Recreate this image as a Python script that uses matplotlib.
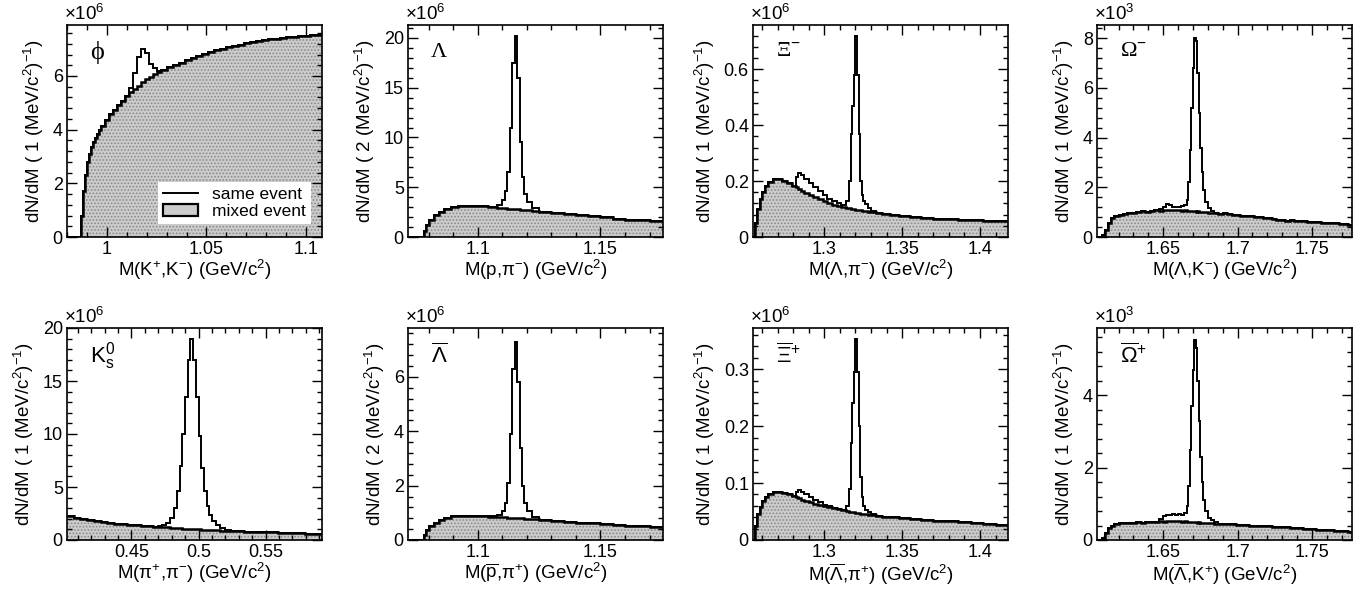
# -*- coding: utf-8 -*-
"""
Invariant-mass spectra: same-event vs mixed-event pairs
for phi, Lambda, Xi, Omega, K0s and anti-baryons.
"""
import matplotlib
matplotlib.use('Agg')
import matplotlib.pyplot as plt
from matplotlib.lines import Line2D
from matplotlib.patches import Patch
from matplotlib.ticker import MultipleLocator, AutoMinorLocator, FuncFormatter

plt.rcParams['font.family'] = ['Liberation Sans', 'DejaVu Sans']
plt.rcParams['mathtext.fontset'] = 'custom'
plt.rcParams['mathtext.rm'] = 'Liberation Sans'
plt.rcParams['mathtext.it'] = 'Liberation Sans:italic'
plt.rcParams['mathtext.bf'] = 'Liberation Sans:bold'
plt.rcParams['hatch.linewidth'] = 0.8

# ---- phi -> K+ K-  (x10^6) ----
phi_edges = [0.980, 0.987, 0.988, 0.989, 0.990, 0.991, 0.992, 0.993, 0.994, 0.995,
             0.996, 0.997, 0.999, 1.001, 1.003, 1.005, 1.007, 1.009, 1.011, 1.013,
             1.015, 1.017, 1.019, 1.021, 1.023, 1.025, 1.027, 1.030, 1.033, 1.036,
             1.039, 1.042, 1.045, 1.048, 1.051, 1.054, 1.057, 1.060, 1.063, 1.066,
             1.069, 1.072, 1.075, 1.078, 1.081, 1.084, 1.087, 1.090, 1.093, 1.096,
             1.099, 1.102, 1.105, 1.108]
phi_mixed = [0, 0.8, 1.7, 2.3, 2.8, 3.1, 3.35, 3.55, 3.7, 3.85,
             3.97, 4.12, 4.35, 4.57, 4.75, 4.93, 5.08, 5.25, 5.4, 5.52,
             5.64, 5.76, 5.88, 5.98, 6.07, 6.15, 6.24, 6.32, 6.41, 6.5,
             6.58, 6.66, 6.74, 6.81, 6.88, 6.95, 7.01, 7.07, 7.12, 7.17,
             7.22, 7.26, 7.3, 7.33, 7.36, 7.39, 7.42, 7.44, 7.46, 7.48,
             7.5, 7.51, 7.53]
phi_same = [0, 0.8, 1.7, 2.3, 2.8, 3.1, 3.35, 3.55, 3.7, 3.85,
            3.97, 4.12, 4.35, 4.57, 4.75, 4.93, 5.08, 5.25, 5.55, 6.1,
            6.7, 7.02, 6.85, 6.45, 6.28, 6.2, 6.24, 6.32, 6.41, 6.5,
            6.58, 6.66, 6.74, 6.81, 6.88, 6.95, 7.01, 7.07, 7.12, 7.17,
            7.22, 7.26, 7.3, 7.33, 7.36, 7.39, 7.42, 7.44, 7.46, 7.48,
            7.5, 7.51, 7.53]

# ---- Lambda / anti-Lambda -> p pi  (x10^6) ----
lam_edges = [1.0715, 1.078, 1.079, 1.080, 1.082, 1.084, 1.086, 1.089, 1.092, 1.096,
             1.100, 1.104, 1.108, 1.110, 1.111, 1.112, 1.113, 1.114, 1.115, 1.116,
             1.117, 1.118, 1.119, 1.120, 1.122, 1.125, 1.130, 1.135, 1.140, 1.145,
             1.150, 1.155, 1.160, 1.165, 1.170, 1.1755]
lam_mixed = [0, 0.6, 1.2, 1.7, 2.2, 2.55, 2.85, 3.02, 3.12, 3.13,
             3.07, 2.98, 2.92, 2.89, 2.87, 2.85, 2.83, 2.81, 2.79, 2.77,
             2.75, 2.73, 2.71, 2.68, 2.63, 2.55, 2.42, 2.3, 2.18, 2.07,
             1.96, 1.85, 1.75, 1.67, 1.6]
lam_same = [0, 0.6, 1.2, 1.7, 2.2, 2.55, 2.85, 3.02, 3.12, 3.13,
            3.07, 3.0, 3.2, 3.7, 4.6, 6.5, 11.0, 17.5, 20.2, 16.0,
            9.5, 6.0, 4.3, 3.5, 2.9, 2.55, 2.42, 2.3, 2.18, 2.07,
            1.96, 1.85, 1.75, 1.67, 1.6]
alam_mixed = [0, 0.17, 0.35, 0.5, 0.64, 0.74, 0.82, 0.87, 0.9, 0.9,
              0.88, 0.86, 0.84, 0.835, 0.83, 0.825, 0.82, 0.815, 0.81, 0.805,
              0.8, 0.795, 0.79, 0.78, 0.765, 0.74, 0.7, 0.67, 0.64, 0.61,
              0.58, 0.55, 0.52, 0.5, 0.48]
alam_same = [0, 0.17, 0.35, 0.5, 0.64, 0.74, 0.82, 0.87, 0.9, 0.9,
             0.88, 0.87, 0.92, 1.05, 1.35, 2.1, 3.9, 6.3, 7.3, 5.8,
             3.4, 2.0, 1.35, 1.05, 0.85, 0.74, 0.7, 0.67, 0.64, 0.61,
             0.58, 0.55, 0.52, 0.5, 0.48]

# ---- Xi- / Xi+ -> Lambda pi  (x10^6) ----
xi_edges = [1.2542, 1.2555, 1.257, 1.2585, 1.260, 1.262, 1.264, 1.267, 1.270, 1.273,
            1.276, 1.279, 1.2815, 1.283, 1.285, 1.287, 1.290, 1.293, 1.296, 1.299,
            1.302, 1.305, 1.308, 1.311, 1.314, 1.316, 1.317, 1.318, 1.319, 1.320,
            1.321, 1.322, 1.323, 1.324, 1.325, 1.326, 1.328, 1.330, 1.333, 1.337,
            1.342, 1.348, 1.355, 1.362, 1.370, 1.378, 1.386, 1.394, 1.402, 1.410,
            1.418]
xim_mixed = [0, 0.05, 0.1, 0.135, 0.16, 0.183, 0.198, 0.206, 0.207, 0.2,
             0.192, 0.183, 0.177, 0.171, 0.165, 0.158, 0.15, 0.142, 0.135, 0.128,
             0.122, 0.116, 0.112, 0.108, 0.104, 0.102, 0.101, 0.1, 0.099, 0.098,
             0.097, 0.096, 0.095, 0.094, 0.093, 0.092, 0.09, 0.088, 0.085, 0.082,
             0.078, 0.075, 0.072, 0.069, 0.066, 0.064, 0.062, 0.06, 0.058, 0.056]
xim_same = [0, 0.05, 0.1, 0.135, 0.16, 0.183, 0.198, 0.206, 0.207, 0.2,
            0.192, 0.183, 0.215, 0.23, 0.222, 0.208, 0.193, 0.178, 0.163, 0.149,
            0.137, 0.127, 0.12, 0.115, 0.13, 0.2, 0.37, 0.47, 0.58, 0.72,
            0.58, 0.37, 0.2, 0.15, 0.13, 0.118, 0.105, 0.092, 0.085, 0.082,
            0.078, 0.075, 0.072, 0.069, 0.066, 0.064, 0.062, 0.06, 0.058, 0.056]
xip_mixed = [0, 0.025, 0.045, 0.058, 0.068, 0.076, 0.081, 0.084, 0.085, 0.083,
             0.08, 0.077, 0.075, 0.073, 0.071, 0.069, 0.066, 0.064, 0.062, 0.06,
             0.058, 0.056, 0.054, 0.052, 0.051, 0.05, 0.0495, 0.049, 0.0485, 0.048,
             0.0475, 0.047, 0.0465, 0.046, 0.0455, 0.045, 0.0445, 0.044, 0.043, 0.041,
             0.04, 0.038, 0.037, 0.0355, 0.034, 0.033, 0.031, 0.0295, 0.028, 0.026]
xip_same = [0, 0.025, 0.045, 0.058, 0.068, 0.076, 0.081, 0.084, 0.085, 0.083,
            0.08, 0.077, 0.084, 0.088, 0.085, 0.08, 0.075, 0.07, 0.066, 0.062,
            0.059, 0.057, 0.055, 0.053, 0.06, 0.09, 0.17, 0.24, 0.295, 0.354,
            0.295, 0.2, 0.11, 0.075, 0.06, 0.053, 0.049, 0.045, 0.043, 0.041,
            0.04, 0.038, 0.037, 0.0355, 0.034, 0.033, 0.031, 0.0295, 0.028, 0.026]

# ---- Omega- / Omega+ -> Lambda K  (x10^3) ----
om_edges = [1.6055, 1.609, 1.611, 1.613, 1.615, 1.617, 1.620, 1.623, 1.626, 1.629,
            1.632, 1.635, 1.638, 1.641, 1.644, 1.647, 1.650, 1.652, 1.654, 1.656,
            1.658, 1.660, 1.662, 1.664, 1.666, 1.667, 1.668, 1.669, 1.670, 1.671,
            1.672, 1.673, 1.674, 1.675, 1.676, 1.677, 1.678, 1.680, 1.682, 1.684,
            1.687, 1.690, 1.693, 1.696, 1.699, 1.702, 1.705, 1.708, 1.711, 1.714,
            1.717, 1.720, 1.723, 1.726, 1.729, 1.732, 1.735, 1.738, 1.741, 1.744,
            1.747, 1.750, 1.753, 1.756, 1.759, 1.762, 1.765, 1.768, 1.771, 1.774,
            1.777]
omm_mixed = [0, 0.1, 0.3, 0.55, 0.75, 0.85, 0.9, 0.93, 0.96, 0.98,
             1.01, 1.03, 1.02, 1.06, 1.07, 1.05, 1.08, 1.1, 1.07, 1.09,
             1.08, 1.1, 1.06, 1.07, 1.05, 1.06, 1.04, 1.05, 1.03, 1.04,
             1.02, 1.03, 1.01, 1.02, 1.0, 1.01, 0.99, 0.97, 0.98, 0.96,
             0.94, 0.95, 0.91, 0.89, 0.88, 0.86, 0.84, 0.83, 0.8, 0.79,
             0.76, 0.75, 0.72, 0.7, 0.69, 0.66, 0.67, 0.64, 0.63, 0.64,
             0.61, 0.6, 0.61, 0.58, 0.57, 0.56, 0.55, 0.53, 0.52, 0.5]
omm_same = [0, 0.1, 0.3, 0.55, 0.75, 0.85, 0.9, 0.93, 0.96, 0.98,
            1.01, 1.03, 1.02, 1.06, 1.07, 1.12, 1.22, 1.33, 1.28, 1.22,
            1.2, 1.22, 1.25, 1.3, 1.5, 2.2, 3.5, 5.2, 6.8, 8.0,
            7.9, 6.6, 5.0, 3.6, 2.6, 1.9, 1.4, 1.15, 1.05, 0.98,
            0.94, 0.95, 0.91, 0.89, 0.88, 0.86, 0.84, 0.83, 0.8, 0.79,
            0.76, 0.75, 0.72, 0.7, 0.69, 0.66, 0.67, 0.64, 0.63, 0.64,
            0.61, 0.6, 0.61, 0.58, 0.57, 0.56, 0.55, 0.53, 0.52, 0.5]
omp_mixed = [0, 0.05, 0.2, 0.33, 0.4, 0.44, 0.46, 0.47, 0.46, 0.48,
             0.49, 0.48, 0.5, 0.5, 0.51, 0.52, 0.51, 0.53, 0.52, 0.53,
             0.52, 0.53, 0.51, 0.52, 0.5, 0.51, 0.5, 0.5, 0.49, 0.5,
             0.49, 0.48, 0.49, 0.48, 0.47, 0.48, 0.47, 0.46, 0.47, 0.45,
             0.45, 0.44, 0.43, 0.44, 0.42, 0.41, 0.42, 0.4, 0.4, 0.39,
             0.38, 0.38, 0.37, 0.36, 0.36, 0.35, 0.34, 0.33, 0.33, 0.31,
             0.31, 0.3, 0.29, 0.29, 0.28, 0.27, 0.26, 0.25, 0.25, 0.23]
omp_same = [0, 0.05, 0.2, 0.33, 0.4, 0.44, 0.46, 0.47, 0.46, 0.48,
            0.49, 0.48, 0.5, 0.5, 0.51, 0.58, 0.66, 0.7, 0.69, 0.71,
            0.7, 0.72, 0.7, 0.75, 0.95, 1.5, 2.5, 3.7, 4.7, 5.52,
            5.3, 4.4, 3.3, 2.3, 1.6, 1.1, 0.8, 0.62, 0.55, 0.49,
            0.45, 0.44, 0.43, 0.44, 0.42, 0.41, 0.42, 0.4, 0.4, 0.39,
            0.38, 0.38, 0.37, 0.36, 0.36, 0.35, 0.34, 0.33, 0.33, 0.31,
            0.31, 0.3, 0.29, 0.29, 0.28, 0.27, 0.26, 0.25, 0.25, 0.23]

# ---- K0s -> pi+ pi-  (x10^6) ----
k0_edges = [0.402, 0.407, 0.412, 0.417, 0.422, 0.427, 0.432, 0.437, 0.442, 0.447,
            0.452, 0.457, 0.462, 0.466, 0.470, 0.473, 0.476, 0.479, 0.482, 0.484,
            0.486, 0.488, 0.490, 0.492, 0.494, 0.496, 0.498, 0.500, 0.502, 0.504,
            0.506, 0.508, 0.510, 0.513, 0.516, 0.520, 0.524, 0.529, 0.534, 0.539,
            0.544, 0.549, 0.554, 0.559, 0.564, 0.569, 0.574, 0.579, 0.584, 0.592]
k0_mixed = [2.25, 2.12, 2.0, 1.9, 1.8, 1.7, 1.62, 1.55, 1.48, 1.42,
            1.37, 1.33, 1.29, 1.26, 1.23, 1.2, 1.18, 1.15, 1.13, 1.11,
            1.1, 1.08, 1.07, 1.05, 1.04, 1.03, 1.01, 1.0, 0.99, 0.97,
            0.96, 0.95, 0.93, 0.91, 0.89, 0.87, 0.85, 0.82, 0.8, 0.77,
            0.75, 0.73, 0.71, 0.69, 0.67, 0.65, 0.63, 0.61, 0.59]
k0_same = [2.25, 2.12, 2.0, 1.9, 1.8, 1.7, 1.62, 1.55, 1.48, 1.42,
           1.37, 1.33, 1.29, 1.26, 1.3, 1.4, 1.6, 2.05, 3.0, 4.6,
           7.0, 10.0, 13.5, 17.0, 19.0, 17.0, 13.5, 9.8, 6.8, 4.6,
           3.2, 2.4, 1.8, 1.4, 1.15, 0.95, 0.85, 0.82, 0.8, 0.77,
           0.75, 0.73, 0.71, 0.69, 0.67, 0.65, 0.63, 0.61, 0.59]

# panel labels / axis texts
particle_labels = ['ϕ', 'Λ', 'Ξ$^{-}$', 'Ω$^{-}$',
                   r'K$^{0}_{\mathrm{s}}$', r'$\overline{\mathrm{\Lambda}}$',
                   r'$\overline{\mathrm{\Xi}}^{+}$', r'$\overline{\mathrm{\Omega}}^{+}$']
x_titles = [r'M(K$^{+}$,K$^{-}$) (GeV/c$^{2}$)',
            r'M(p,π$^{-}$) (GeV/c$^{2}$)',
            r'M(Λ,π$^{-}$) (GeV/c$^{2}$)',
            r'M(Λ,K$^{-}$) (GeV/c$^{2}$)',
            r'M(π$^{+}$,π$^{-}$) (GeV/c$^{2}$)',
            r'M($\overline{\mathrm{p}}$,π$^{+}$) (GeV/c$^{2}$)',
            r'M($\overline{\mathrm{\Lambda}}$,π$^{+}$) (GeV/c$^{2}$)',
            r'M($\overline{\mathrm{\Lambda}}$,K$^{+}$) (GeV/c$^{2}$)']
bin_per_mev = ['1', '2', '1', '1', '1', '2', '1', '1']
exponents = ['6', '6', '6', '3', '6', '6', '6', '3']
y_max = [7.9, 21.3, 0.758, 8.53, 20.0, 7.8, 0.3725, 5.86]
y_step = [2, 5, 0.2, 2, 5, 2, 0.1, 2]

FILL = '#cccccc'
DOTS = '#8a8a8a'


def main():
    fig = plt.figure(figsize=(13.66, 5.89), dpi=100)
    W, H = 1366.0, 589.0
    lefts = [67, 408, 753, 1097]
    tops = [25, 328]
    aw, ah = 255, 212

    panels = [
        (phi_edges, phi_mixed, phi_same),
        (lam_edges, lam_mixed, lam_same),
        (xi_edges, xim_mixed, xim_same),
        (om_edges, omm_mixed, omm_same),
        (k0_edges, k0_mixed, k0_same),
        (lam_edges, alam_mixed, alam_same),
        (xi_edges, xip_mixed, xip_same),
        (om_edges, omp_mixed, omp_same),
    ]

    fmt = FuncFormatter(lambda v, p: '%g' % round(v, 6))

    for i, (edges, mixed, same) in enumerate(panels):
        row, col = divmod(i, 4)
        ax = fig.add_axes([lefts[col] / W, 1 - (tops[row] + ah) / H, aw / W, ah / H])

        # mixed event: dotted grey fill + black outline, same event on top
        ax.stairs(mixed, edges, fill=True, facecolor=FILL, edgecolor=DOTS,
                  linewidth=0, hatch='.....')
        ax.stairs(mixed, edges, color='k', lw=1.8, baseline=None)
        ax.stairs(same, edges, color='k', lw=1.4, baseline=None)

        ax.set_xlim(edges[0], edges[-1])
        ax.set_ylim(0, y_max[i])
        ax.xaxis.set_major_locator(MultipleLocator(0.05))
        ax.xaxis.set_minor_locator(MultipleLocator(0.01))
        ax.yaxis.set_major_locator(MultipleLocator(y_step[i]))
        ax.yaxis.set_minor_locator(AutoMinorLocator(5))
        ax.xaxis.set_major_formatter(fmt)
        ax.yaxis.set_major_formatter(fmt)
        ax.tick_params(which='both', direction='in', top=True, right=True,
                       labelsize=13, width=1.0)
        ax.tick_params(which='major', length=7, pad=3)
        ax.tick_params(which='minor', length=3.5)
        for s in ax.spines.values():
            s.set_linewidth(1.2)

        ax.set_xlabel(x_titles[i], fontsize=13.5)
        ax.xaxis.set_label_coords(0.5, -0.1)
        ax.xaxis.label.set_va('top')
        ax.set_ylabel(r'dN/dM ( %s (MeV/c$^{2}$)$^{-1}$)' % bin_per_mev[i],
                      fontsize=13.5, labelpad=5)

        ax.text(-0.01, 1.005, r'$\times$10$^{%s}$' % exponents[i], transform=ax.transAxes,
                ha='left', va='bottom', fontsize=13.5)
        fam = ['Liberation Sans', 'DejaVu Sans'] if i == 4 else ['Liberation Serif', 'DejaVu Serif']
        ax.text(0.09, 0.87, particle_labels[i], transform=ax.transAxes,
                ha='left', va='center', fontsize=19 if i == 0 else 16, family=fam)

        if i == 0:
            handles = [Line2D([], [], color='k', lw=1.4),
                       Patch(facecolor=FILL, edgecolor='k', lw=1.6)]
            leg = ax.legend(handles, ['same event', 'mixed event'], loc='lower right',
                            bbox_to_anchor=(0.99, 0.02), fontsize=12.5, frameon=True,
                            fancybox=False, framealpha=1, edgecolor='white',
                            borderpad=0.3, handlelength=2.0, labelspacing=0.1,
                            handletextpad=0.8)
            leg.get_frame().set_linewidth(0)

    fig.savefig('out.png', dpi=100)
    plt.close(fig)


if __name__ == '__main__':
    main()
